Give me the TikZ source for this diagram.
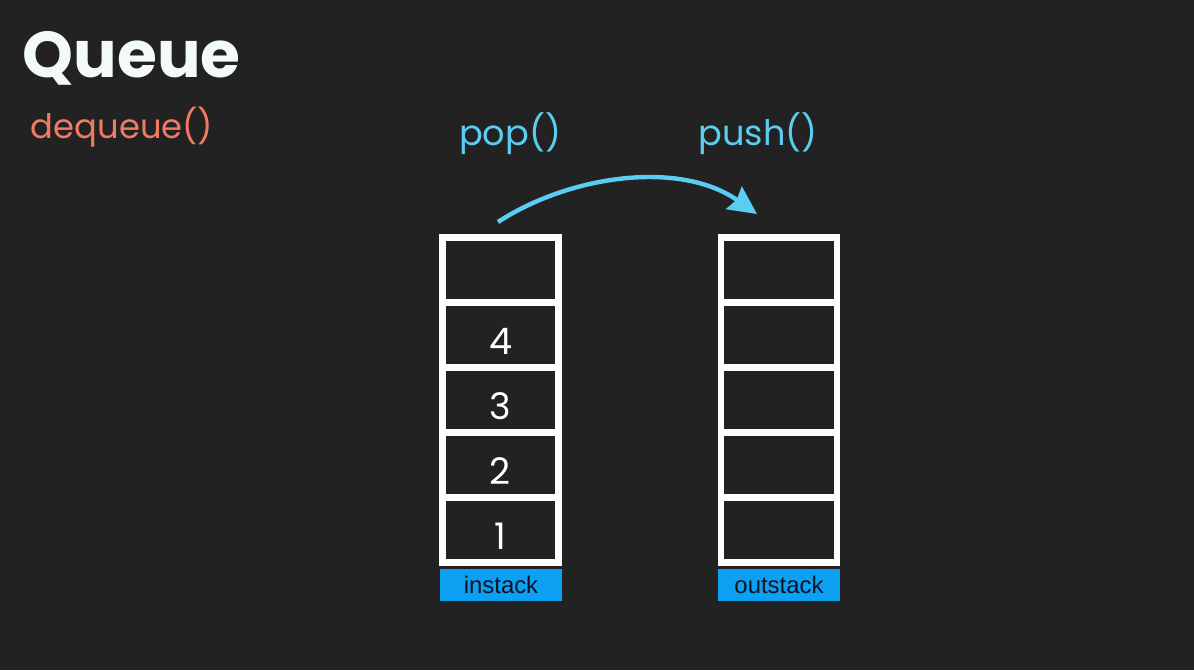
\documentclass[tikz,border=0pt]{standalone}
\usepackage{fontspec}
\setmainfont{Poppins}
\newfontfamily\tagfont{Liberation Sans}
\usetikzlibrary{arrows.meta, positioning}
\definecolor{boardbg}{HTML}{222222}
\definecolor{chalk}{HTML}{F2FAFA}
\definecolor{salmon}{HTML}{F07A62}
\definecolor{skyblue}{HTML}{5CCDF2}
\definecolor{tagblue}{HTML}{0BA0F2}
\definecolor{taginkk}{HTML}{0D1420}

\begin{document}
\begin{tikzpicture}[x=0.025cm, y=-0.025cm,
    cell/.style={draw=white, line width=0.17cm, minimum width=2.9cm,
      minimum height=1.62cm, inner sep=0pt},
    digit/.style={text=white, font=\fontsize{26}{26}\selectfont},
    tagbox/.style={fill=tagblue, minimum width=3.05cm, minimum height=0.8cm,
      inner sep=0pt, text=taginkk, font=\tagfont\fontsize{17}{17}\selectfont},
    hand/.style={text=skyblue, font=\fontsize{25}{25}\selectfont}]
    \fill[boardbg] (0,0) rectangle (1194,670);
    \node[anchor=west, text=chalk, font=\fontsize{46}{46}\selectfont\bfseries]
      (title) at (18,58) {Queue};
    \node[anchor=west, text=salmon, font=\fontsize{24}{24}\selectfont]
      (subtitle) at (26,127) {dequeue()};
    % the two stacks
    \foreach \i in {1,...,5}{%
      \node[cell] (in\i) at (500.5,{595-65*\i}) {};
      \node[cell] (out\i) at (779,{595-65*\i}) {};}
    \foreach \i in {1,...,4}{%
      \node[digit] (num\i) at ([yshift=-0.15cm]in\i.center) {\i};}
    \node[tagbox] (instack) at (501,585) {instack};
    \node[tagbox] (outstack) at (779,585) {outstack};
    % moving the top
    \node[hand] (poplbl) at (510,134) {pop()};
    \node[hand] (pushlbl) at (758,134) {push()};
    \coordinate (popfrom) at (498,222);
    \coordinate (pushto) at (757,214);
    \draw[skyblue, line width=0.11cm,
      -{Stealth[length=0.7cm, width=0.68cm, inset=0.08cm]}]
      (popfrom) .. controls (570,175) and (680,160) .. (pushto);
  \end{tikzpicture}
\end{document}
